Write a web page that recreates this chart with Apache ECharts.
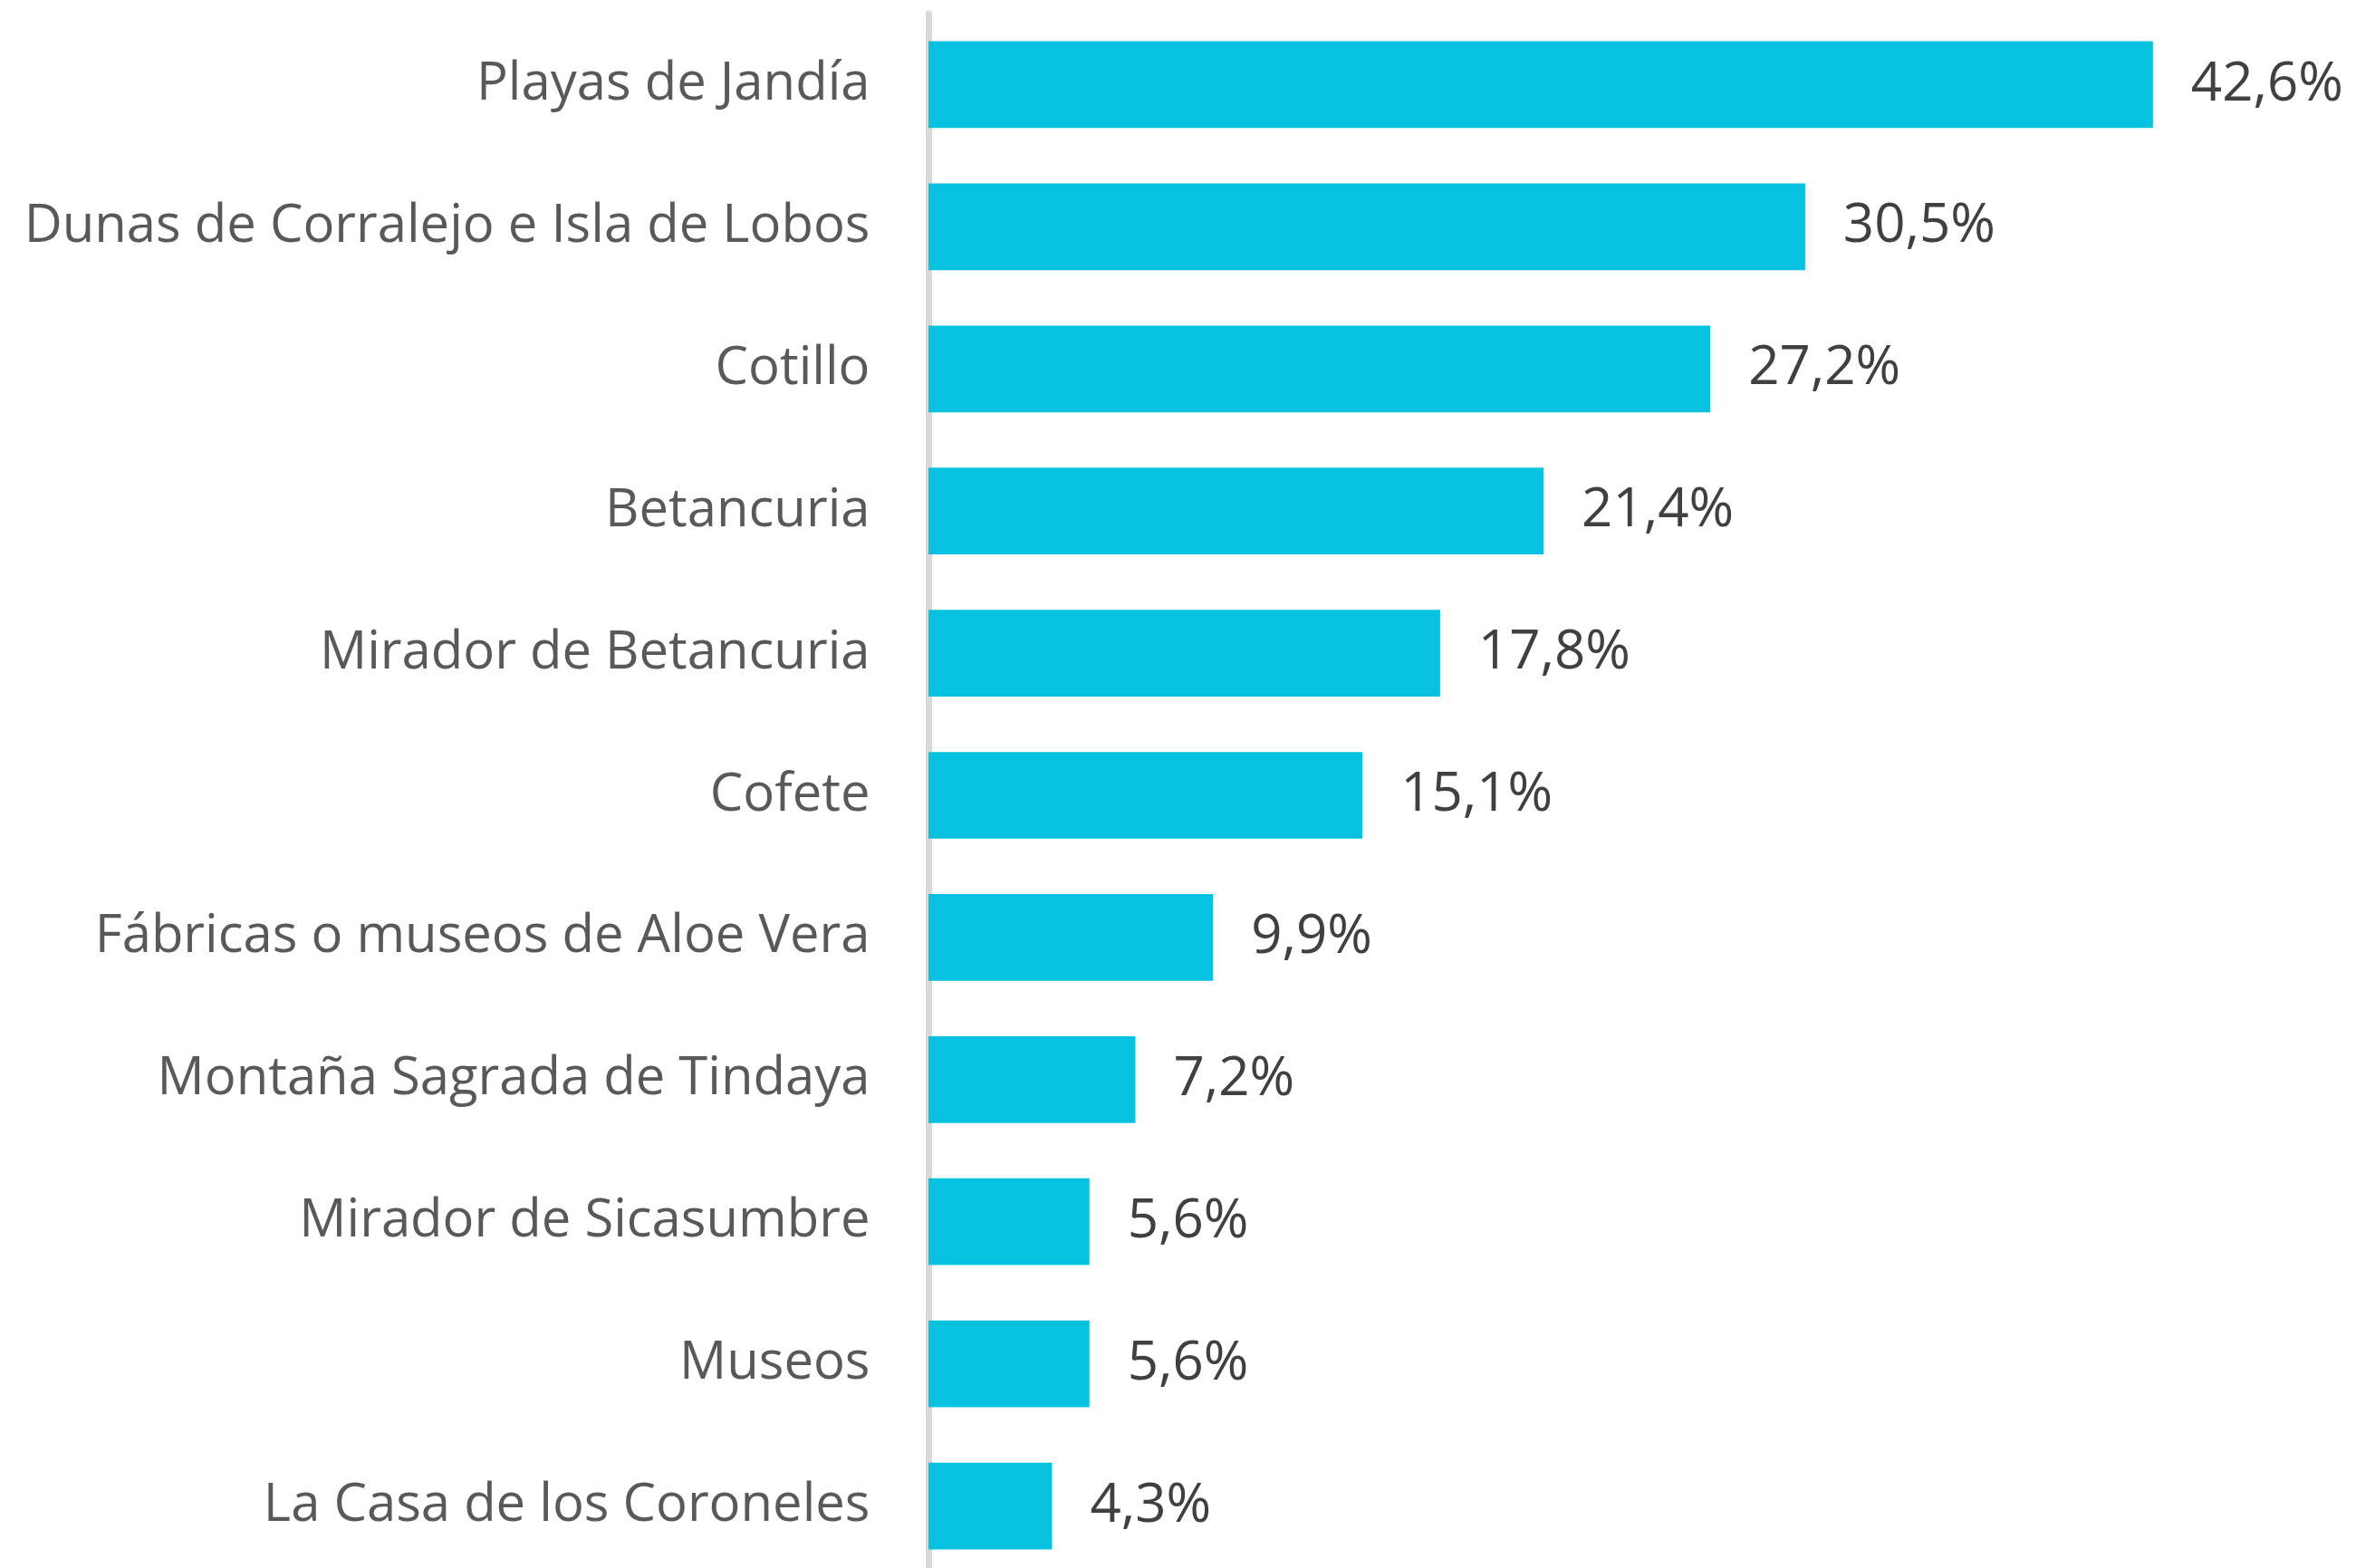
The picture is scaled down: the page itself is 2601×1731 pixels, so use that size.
<!DOCTYPE html>
<html>
<head>
<meta charset="utf-8">
<script src="https://cdn.jsdelivr.net/npm/echarts@6/dist/echarts.min.js"></script>
<style>
  html, body { margin: 0; padding: 0; background: #fff; }
  #main { width: 2601px; height: 1731px; }
</style>
</head>
<body>
<div id="main"></div>
<script>
var categories = [
    'Playas de Jandía',
    'Dunas de Corralejo e Isla de Lobos',
    'Cotillo',
    'Betancuria',
    'Mirador de Betancuria',
    'Cofete',
    'Fábricas o museos de Aloe Vera',
    'Montaña Sagrada de Tindaya',
    'Mirador de Sicasumbre',
    'Museos',
    'La Casa de los Coroneles'
];
var values = [42.6, 30.5, 27.2, 21.4, 17.8, 15.1, 9.9, 7.2, 5.6, 5.6, 4.3];

var myChart = echarts.init(document.getElementById('main'));
var option = {
    animation: false,
    grid: {
        left: 1025,
        right: 148,
        top: 15,
        height: 1726,
        outerBoundsMode: 'none',
        containLabel: false
    },
    xAxis: {
        type: 'value',
        min: 0,
        max: 45,
        show: false
    },
    yAxis: {
        type: 'category',
        data: categories,
        inverse: true,
        offset: 3.5,
        axisLine: { show: true, lineStyle: { color: '#d9d9d9', width: 7 } },
        axisTick: { show: false },
        axisLabel: {
            margin: 61,
            color: '#595959',
            fontFamily: 'Open Sans',
            fontSize: 58
        }
    },
    series: [{
        type: 'bar',
        data: values,
        barCategoryGap: '39%',
        itemStyle: { color: '#06c1df' },
        label: {
            show: true,
            position: 'right',
            distance: 42,
            color: '#404040',
            fontFamily: 'Open Sans',
            fontSize: 60,
            formatter: function (p) {
                return p.value.toFixed(1).replace('.', ',') + '%';
            }
        }
    }]
};
myChart.setOption(option);
</script>
</body>
</html>
